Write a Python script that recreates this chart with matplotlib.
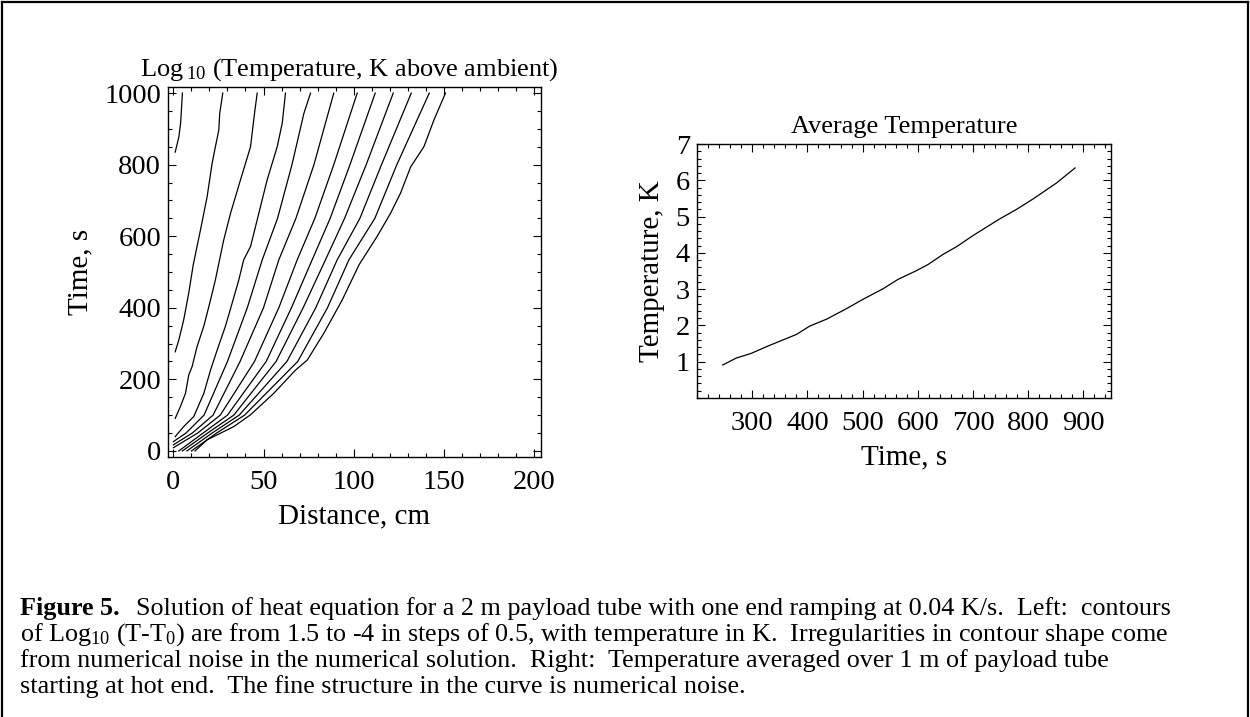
""" Heat equation figure: contour of log10 temperature and average temperature
"""
import numpy as np
import matplotlib
matplotlib.use('Agg')
from matplotlib import pyplot as plt
from matplotlib.lines import Line2D
from matplotlib.ticker import MultipleLocator

plt.rcParams['font.family'] = ['Liberation Serif', 'DejaVu Serif']
plt.rcParams['mathtext.fontset'] = 'custom'
plt.rcParams['mathtext.rm'] = 'Liberation Serif'
plt.rcParams['mathtext.it'] = 'Liberation Serif:italic'
plt.rcParams['mathtext.bf'] = 'Liberation Serif:bold'

# Contour levels of Log10(T-T0) (distance cm, time s)
levels = [1.5, 1.0, 0.5, 0.0, -0.5, -1.0, -1.5, -2.0, -2.5, -3.0, -3.5, -4.0]
contour_dist = [
    [1, 3, 4, 5],
    [1, 3, 5.7, 8.5, 11, 15, 18.7, 21.5, 23.3, 25.2, 25.7, 27.4],
    [1, 3.9, 6.7, 8.5, 10.4, 13.1, 16.9, 20.6, 23.3, 27.9, 31.7, 37.2, 42.8, 45, 46.5],
    [1, 5.7, 11.3, 16.9, 20.6, 24.3, 28.9, 32.6, 36.3, 39, 42.8, 47.4, 52, 57.6, 60.4, 62.2],
    [0, 7, 17, 30, 41, 49.3, 57.8, 65.8, 72.4, 76.1],
    [0, 10.5, 22, 37, 50, 58.5, 68, 78, 89],
    [0, 13.5, 26, 45, 58.5, 68.7, 78.5, 89, 102],
    [3, 16.5, 30, 51.5, 65.5, 77, 87, 98, 112],
    [5, 19, 33.5, 57, 72, 84.4, 95, 107, 122],
    [7.5, 21.5, 36.5, 63, 79, 90.9, 103.5, 115.5, 132],
    [10, 24, 39.5, 69, 85.5, 97.4, 111.8, 124, 142],
    [12, 18.7, 33.5, 42.8, 55.7, 67.8, 74.3, 83.5, 93.7, 103, 113, 120.5, 126, 131.7, 139, 144.6, 151],
]
contour_time = [
    [835, 877, 916, 1000],
    [277, 310, 366, 441, 520, 617, 710, 804, 850, 897, 943, 1000],
    [91, 124, 161, 212, 236, 291, 349, 422, 478, 589, 664, 757, 850, 943, 1000],
    [40, 68, 96, 161, 226, 282, 349, 413, 478, 534, 571, 664, 757, 850, 916, 1000],
    [26, 50, 100, 250, 400, 534, 650, 800, 943, 1000],
    [17, 50, 100, 250, 400, 534, 650, 800, 1000],
    [9, 50, 100, 250, 400, 534, 650, 800, 1000],
    [0, 50, 100, 250, 400, 534, 650, 800, 1000],
    [0, 50, 100, 250, 400, 534, 650, 800, 1000],
    [0, 50, 100, 250, 400, 534, 650, 800, 1000],
    [0, 50, 100, 250, 400, 534, 650, 800, 1000],
    [0, 31, 68, 101, 161, 226, 254, 329, 422, 520, 599, 664, 720, 794, 850, 925, 1000],
]

# Average temperature over 1 m of tube
avg_time = [246.6, 271, 298.2, 331.4, 379.9, 404, 434.3, 470.6, 500.7, 537, 564.2,
            597.6, 618.7, 645.9, 670.2, 700.4, 748.8, 779, 809.3, 851.7, 884.9]
avg_temp = [0.91, 1.10, 1.23, 1.45, 1.75, 1.98, 2.17, 2.46, 2.72, 3.01, 3.27,
            3.51, 3.68, 3.96, 4.17, 4.48, 4.94, 5.20, 5.49, 5.93, 6.34]

caption_head = "Figure 5."
caption = [
    "Solution of heat equation for a 2 m payload tube with one end ramping at 0.04 K/s.  Left:  contours",
    r"of Log$_{10}$ (T-T$_0$) are from 1.5 to -4 in steps of 0.5, with temperature in K.  Irregularities in contour shape come",
    r"from numerical noise in the numerical solution.  Right:  Temperature averaged over 1 m of payload tube",
    r"starting at hot end.  The fine structure in the curve is numerical noise.",
]

W, H = 1250., 717.
fig = plt.figure(figsize=(12.5, 7.17), dpi=100)


def px_box(x0, y0, x1, y1):
    return [x0/W, 1-y1/H, (x1-x0)/W, (y1-y0)/H]


def style_axes(ax):
    ax.tick_params(which='both', direction='in', top=True, right=True, labelsize=20.5,
                   width=0.8, pad=5)
    ax.tick_params(axis='x', which='both', pad=9.5)
    ax.tick_params(which='major', length=6)
    ax.tick_params(which='minor', length=3)
    for sp in ax.spines.values():
        sp.set_linewidth(1.0)


# Left: contours
ax = fig.add_axes(px_box(168, 87, 541, 457))
for dd, tt in zip(contour_dist, contour_time):
    ax.plot(dd, tt, 'k-', lw=0.9)
ax.set_xlim(-3, 204)
ax.set_ylim(-17, 1017)
ax.xaxis.set_major_locator(MultipleLocator(50))
ax.xaxis.set_minor_locator(MultipleLocator(10))
ax.yaxis.set_major_locator(MultipleLocator(200))
ax.yaxis.set_minor_locator(MultipleLocator(50))
style_axes(ax)
ax.set_xlabel('Distance, cm', size=21, labelpad=6)
ax.set_ylabel('Time, s', size=21, labelpad=8)
fig.text(140/W, 1-70/H, r'Log$_{\;10}$ (Temperature, K above ambient)', size=19,
         ha='left', va='center')

# Right: average temperature
ax2 = fig.add_axes(px_box(697, 144, 1111, 398))
ax2.plot(avg_time, avg_temp, 'k-', lw=0.9)
ax2.set_xlim(200, 950)
ax2.set_ylim(0, 7)
ax2.xaxis.set_minor_locator(MultipleLocator(20))
ax2.yaxis.set_minor_locator(MultipleLocator(0.2))
ax2.set_xticks(np.arange(300, 901, 100))
ax2.set_yticks(np.arange(1, 8, 1))
style_axes(ax2)
ax2.set_xlabel('Time, s', size=21, labelpad=6)
ax2.set_ylabel('Temperature, K', size=21, labelpad=8)
ax2.set_title('Average Temperature', size=19, pad=8)

# Caption: bold head, then the rest of the first line after it
head = fig.text(20/W, 1-609/H, caption_head, size=18.8, weight='bold', ha='left', va='center')
fig.canvas.draw()
x_end = head.get_window_extent(renderer=fig.canvas.get_renderer()).x1
fig.text((x_end+16)/W, 1-609/H, caption[0], size=18.8, ha='left', va='center')
for kk, line in enumerate(caption[1:]):
    fig.text(20/W, 1-(635+26*kk)/H, line, size=18.8, ha='left', va='center')

# Page border
for xs, ys in [([2/W, 1-2/W], [1-2/H, 1-2/H]), ([2/W, 2/W], [0, 1-2/H]),
               ([1-2/W, 1-2/W], [0, 1-2/H])]:
    fig.add_artist(Line2D(xs, ys, color='k', lw=1.6))

fig.savefig('out.png', dpi=100)
plt.close()
